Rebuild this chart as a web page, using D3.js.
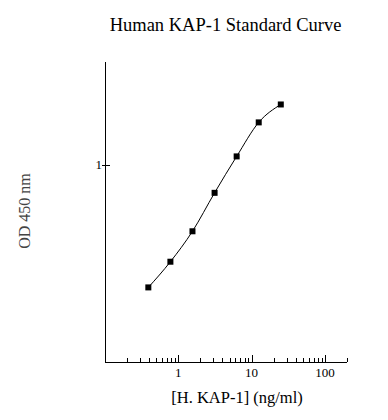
<!DOCTYPE html>
<html><head><meta charset="utf-8">
<script src="https://cdn.jsdelivr.net/npm/d3@7"></script>
<style>body{margin:0;background:#fff}svg{display:block}text{font-family:"Liberation Serif","Times New Roman",serif}</style>
</head><body>
<script>
const conc = [0.39, 0.78, 1.56, 3.125, 6.25, 12.5, 25];
const od = [0.39, 0.475, 0.60, 0.806, 1.066, 1.384, 1.588];
const xTickLabels = [1, 10, 100];
const yTickLabels = [1];

(function () {
const W = 388, H = 420;
const mL = 105, mR = 347, mT = 62, mB = 362;
const svg = d3.select("body").append("svg").attr("width", W).attr("height", H);

const x = d3.scaleLog().domain([0.1, 200]).range([mL, mR]);
const y = d3.scaleLog().domain([0.22, 2.2]).range([mB, mT]);

svg.append("line").attr("x1", mL).attr("x2", mR).attr("y1", mB + 0.5).attr("y2", mB + 0.5).attr("stroke", "#000");
svg.append("line").attr("x1", mL + 0.5).attr("x2", mL + 0.5).attr("y1", mT).attr("y2", mB).attr("stroke", "#000");

const minor = [];
for (let d = 0.1; d < 200; d *= 10) for (let k = 1; k <= 9; k++) { const v = +(d * k).toPrecision(3); if (v > 0.1 && v <= 200) minor.push(v); }
svg.append("g").selectAll("line").data(minor).join("line")
  .attr("x1", d => Math.round(x(d)) + 0.5).attr("x2", d => Math.round(x(d)) + 0.5)
  .attr("y1", mB).attr("y2", d => xTickLabels.includes(d) ? mB - 7 : mB - 4)
  .attr("stroke", "#000");
svg.append("g").selectAll("text").data(xTickLabels).join("text")
  .attr("x", d => x(d)).attr("y", 377).attr("text-anchor", "middle").attr("font-size", 13).text(d => d);

svg.append("g").selectAll("line").data(yTickLabels).join("line")
  .attr("x1", mL - 3).attr("x2", mL + 5).attr("y1", d => Math.round(y(d)) + 0.5).attr("y2", d => Math.round(y(d)) + 0.5)
  .attr("stroke", "#000");
svg.append("g").selectAll("text").data(yTickLabels).join("text")
  .attr("x", mL - 3).attr("y", d => y(d) + 4.5).attr("text-anchor", "end").attr("font-size", 13).text(d => d);

const pts = conc.map((c, i) => [c, od[i]]);
svg.append("path").datum(pts)
  .attr("d", d3.line().x(d => x(d[0])).y(d => y(d[1])).curve(d3.curveMonotoneX))
  .attr("fill", "none").attr("stroke", "#000").attr("stroke-width", 1);
svg.append("g").selectAll("rect").data(pts).join("rect")
  .attr("x", d => x(d[0]) - 3).attr("y", d => y(d[1]) - 3).attr("width", 6).attr("height", 6).attr("fill", "#000");

svg.append("text").attr("x", 225.5).attr("y", 31).attr("text-anchor", "middle").attr("font-size", 18.5).text("Human KAP-1 Standard Curve");
svg.append("text").attr("x", 237).attr("y", 403).attr("text-anchor", "middle").attr("font-size", 16.5).text("[H. KAP-1] (ng/ml)");
svg.append("text").attr("transform", "translate(30,211) rotate(-90)").attr("text-anchor", "middle").attr("font-size", 16).attr("fill", "#444").text("OD 450 nm");
})();
</script>
</body></html>
